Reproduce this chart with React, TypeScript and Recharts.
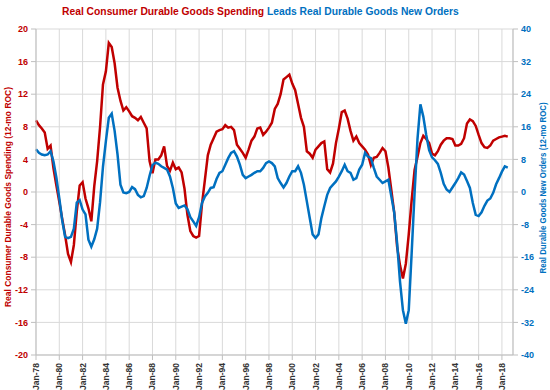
import { LineChart, Line, XAxis, YAxis, CartesianGrid } from "recharts";

const RED = "#C00000";
const BLUE = "#0070C0";
const FONT = "'Liberation Sans', Arial, sans-serif";

const START_YEAR = 1978;

// quarterly readings (Jan/Apr/Jul/Oct), one row per year
const spending = [
  8.8, 8.2, 7.8, 7.3,
  5.3, 5.7, 2.9, 0.8,
  -1.2, -3.3, -5.3, -7.6,
  -8.6, -6.5, -2.4, 0.8,
  1.2, -0.8, -2.0, -3.6,
  0.7, 3.8, 8.0, 13.2,
  14.8, 18.3, 17.8, 15.8,
  12.8, 11.2, 10.0, 10.4,
  9.9, 9.3, 9.1, 8.8,
  9.2, 8.5, 7.8, 3.8,
  2.3, 4.0, 4.0, 4.5,
  5.6, 3.2, 2.6, 3.6,
  2.8, 3.0, 2.4, 0.4,
  -2.8, -4.8, -5.4, -5.6,
  -5.4, -1.5, 1.5, 4.5,
  5.8, 6.6, 7.4, 7.6,
  7.7, 8.2, 7.9, 8.0,
  7.6, 5.8, 5.3, 4.8,
  4.2, 5.2, 6.3, 6.8,
  7.8, 7.9, 7.0, 7.4,
  7.9, 8.5, 10.2, 10.8,
  12.0, 13.8, 14.1, 14.4,
  13.3, 12.5, 10.8, 9.1,
  8.0, 5.0, 4.7, 4.2,
  5.2, 5.6, 6.0, 6.2,
  2.8, 2.4, 3.5, 6.0,
  7.8, 9.8, 10.0, 9.0,
  7.5, 6.3, 6.8, 6.0,
  5.6, 5.2, 4.6, 3.3,
  4.2, 4.3, 4.8, 5.4,
  5.0, 3.0, 0.3, -2.5,
  -6.7, -9.0, -10.6, -8.8,
  -5.2, -1.0, 2.7, 4.3,
  6.0, 6.9, 6.5, 6.0,
  4.7, 4.5, 5.0, 5.8,
  6.3, 6.6, 6.6, 6.5,
  5.7, 5.7, 5.9, 6.6,
  8.4, 8.9, 8.7, 8.1,
  7.0, 6.0, 5.5, 5.4,
  5.7, 6.3, 6.5, 6.7,
  6.8, 6.9, 6.8,
];

const orders = [
  10.5, 9.6, 9.2, 9.0,
  9.2, 10.0, 7.5, 3.5,
  -1.5, -7.0, -11.0, -11.3,
  -11.0, -9.0, -2.6, -2.0,
  -4.3, -5.5, -11.7, -13.4,
  -11.6, -9.0, -2.5, 6.2,
  12.5, 18.2, 19.2, 15.0,
  9.2, 1.8, -0.1, -0.3,
  0.0, 1.2, 0.7, -0.7,
  -1.3, -1.0, 1.0, 4.0,
  6.6, 7.2, 6.9, 6.3,
  5.9, 5.5, 3.8, 1.0,
  -2.8, -3.9, -3.6, -3.3,
  -4.2, -6.2, -7.2, -8.3,
  -6.2, -2.7, -1.1, -0.2,
  1.0, 1.2, 3.2, 4.7,
  5.1, 6.7, 8.3, 9.6,
  10.0, 8.7, 6.7, 4.2,
  3.4, 3.8, 4.2, 4.7,
  5.1, 5.1, 5.9, 7.1,
  7.5, 7.1, 6.3, 3.4,
  2.2, 1.1, 2.2, 3.8,
  5.1, 5.1, 6.3, 4.7,
  1.8, -2.3, -6.4, -10.4,
  -11.3, -10.4, -6.4, -3.5,
  -0.7, 1.0, 1.8, 2.6,
  3.8, 5.1, 6.7, 5.1,
  4.7, 3.0, 3.4, 5.5,
  6.7, 9.6, 8.7, 8.3,
  5.9, 3.8, 3.0, 2.2,
  2.6, 3.0, -1.0, -5.0,
  -12.5, -22.0, -29.0, -32.3,
  -29.0, -15.0, -0.3, 13.0,
  21.5, 18.5, 14.0, 10.3,
  8.5, 7.8, 6.9, 4.7,
  2.0, 0.6, 0.0, 1.1,
  2.2, 3.4, 4.8, 4.3,
  2.7, 1.0, -2.7, -5.6,
  -5.9, -5.0, -3.4, -2.1,
  -1.6, -0.2, 1.9, 3.4,
  5.0, 6.3, 6.0,
];

const yearTicks = [
  1978, 1980, 1982, 1984, 1986, 1988, 1990, 1992, 1994, 1996, 1998,
  2000, 2002, 2004, 2006, 2008, 2010, 2012, 2014, 2016, 2018,
];
const leftTicks = [-20, -16, -12, -8, -4, 0, 4, 8, 12, 16, 20];
const rightTicks = [-40, -32, -24, -16, -8, 0, 8, 16, 24, 32, 40];

const data = spending.map((v, i) => ({
  t: START_YEAR + i / 4,
  spending: v,
  orders: orders[i],
}));

const fmtYear = (y: number) => `Jan-${String(y % 100).padStart(2, "0")}`;

function YearTick({ x, y, payload }: any) {
  return (
    <text
      x={x}
      y={y}
      transform={`rotate(-90 ${x} ${y})`}
      textAnchor="end"
      dominantBaseline="central"
      fill="#333"
      fontSize={8.5}
      fontWeight={700}
      fontFamily={FONT}
    >
      {fmtYear(payload.value)}
    </text>
  );
}

export default function App() {
  return (
    <div style={{ position: "absolute", left: 0, top: 0, width: 550, height: 390, background: "#fff" }}>
      <LineChart width={550} height={390} data={data} margin={{ top: 29, right: 0, bottom: 0, left: 0 }}>
        <CartesianGrid stroke="#d9d9d9" yAxisId="left" />
        <XAxis
          type="number"
          dataKey="t"
          domain={[1978, 2018.95]}
          ticks={yearTicks}
          height={35}
          tick={<YearTick />}
          tickSize={5}
          tickMargin={3}
          stroke="#bfbfbf"
          interval={0}
        />
        <YAxis
          yAxisId="left"
          domain={[-20, 20]}
          ticks={leftTicks}
          width={36}
          tickSize={5}
          tickMargin={3}
          stroke="#bfbfbf"
          interval={0}
          tick={{ fill: RED, fontSize: 9, fontWeight: 700, fontFamily: FONT }}
        />
        <YAxis
          yAxisId="right"
          orientation="right"
          domain={[-40, 40]}
          ticks={rightTicks}
          width={37}
          tickSize={5}
          tickMargin={3}
          stroke="#bfbfbf"
          interval={0}
          tick={{ fill: BLUE, fontSize: 9, fontWeight: 700, fontFamily: FONT }}
        />
        <Line
          yAxisId="left"
          dataKey="spending"
          type="linear"
          stroke={RED}
          strokeWidth={2.5}
          dot={false}
          isAnimationActive={false}
        />
        <Line
          yAxisId="right"
          dataKey="orders"
          type="linear"
          stroke={BLUE}
          strokeWidth={2.5}
          dot={false}
          isAnimationActive={false}
        />
      </LineChart>
      <svg
        width={550}
        height={390}
        style={{ position: "absolute", left: 0, top: 0, pointerEvents: "none" }}
        fontFamily={FONT}
        fontWeight={700}
      >
        {/* two-colour title, drawn as two texts side by side */}
        <text x={62} y={15} fontSize={10.3} fill={RED}>
          Real Consumer Durable Goods Spending
        </text>
        <text x={267} y={15} fontSize={10.3} fill={BLUE}>
          Leads Real Durable Goods New Orders
        </text>
        <text
          x={7}
          y={197}
          transform="rotate(-90 7 197)"
          textAnchor="middle"
          dominantBaseline="central"
          fontSize={9.5}
          fill={RED}
          textLength={220}
          lengthAdjust="spacingAndGlyphs"
        >
          Real Consumer Durable Goods Spending (12-mo ROC)
        </text>
        <text
          x={542}
          y={188}
          transform="rotate(-90 542 188)"
          textAnchor="middle"
          dominantBaseline="central"
          fontSize={9.5}
          fill={BLUE}
          textLength={171}
          lengthAdjust="spacingAndGlyphs"
        >
          Real Durable Goods New Orders (12-mo ROC)
        </text>
      </svg>
    </div>
  );
}
